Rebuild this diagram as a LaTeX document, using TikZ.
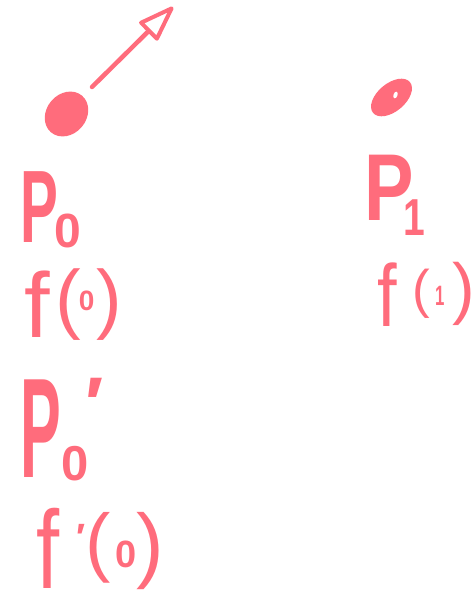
\documentclass[tikz,border=0pt]{standalone}
\usepackage{fontspec}
\setmainfont{Liberation Sans}
\usepackage{graphicx}
\usetikzlibrary{arrows.meta}
\definecolor{ink}{RGB}{255,108,124}
\newcommand\gl[4]{\raisebox{#2pt}{\scalebox{#3}[1]{\fontsize{#1}{#1}\selectfont #4}}}
\newcommand\gb[4]{\raisebox{#2pt}{\scalebox{#3}[1]{\fontsize{#1}{#1}\selectfont\bfseries #4}}}
\begin{document}
\begin{tikzpicture}[x=1pt,y=1pt,
  lbl/.style={anchor=base west, inner sep=0pt, outer sep=0pt, text=ink},
  dotfill/.style={fill=ink},
  pen/.style={draw=ink, line width=4.5pt, line cap=round, line join=round}]
\fill[white] (0,0) rectangle (475,-591);
\useasboundingbox (0,0) rectangle (475,-591);
% points
\fill[dotfill] (66.5,-114) ellipse [x radius=24, y radius=20, rotate=50];
\fill[dotfill] (391.5,-97.5) ellipse [x radius=24, y radius=14, rotate=40];
\fill[white] (395.5,-95) ellipse [x radius=3.5, y radius=2, rotate=70];
% tangent arrow
\coordinate (as) at (92,-87);
\coordinate (at) at (173,-7);
\draw[pen, -{Triangle[open, length=40pt, width=27pt, line width=4pt, round]}] (as) -- (at);
% labels
\node[lbl] (P0) at (20.6,-242) {\gb{103}{0}{0.55}{P}\kern-3.4pt\gb{48}{-5}{1}{0}};
\node[lbl] (f0) at (24,-337) {\gl{92}{0}{1}{f}\kern5.8pt\gl{77}{13}{1}{(}\kern-2.2pt\gb{28}{27}{1}{0}\kern2.3pt\gl{77}{13}{1}{)}};
\node[lbl] (P0p) at (20.3,-477) {\gb{142}{0}{0.43}{P}\gb{49}{-3}{1}{0}\rlap{\kern-3pt\gb{76}{47}{1}{′}}};
\node[lbl] (f0p) at (36.3,-588) {\gl{111}{0}{0.75}{f}\rlap{\kern17pt\gb{38}{38}{1}{′}}\kern26.1pt\gl{76}{21}{1}{(}\kern4.7pt\gb{38}{21}{1}{0}\gl{83}{15.4}{1}{)}};
\node[lbl] (P1) at (364.3,-220) {\gb{95}{0}{0.78}{P}\kern-10pt\gb{52}{-15}{0.75}{1}};
\node[lbl] (f1) at (377.4,-326) {\gl{88}{0}{0.8}{f}\kern15.8pt\gl{53}{19}{1}{(}\kern4.8pt\gb{28}{21}{0.6}{1}\kern7.6pt\gl{68}{14.3}{1}{)}};
\end{tikzpicture}
\end{document}
